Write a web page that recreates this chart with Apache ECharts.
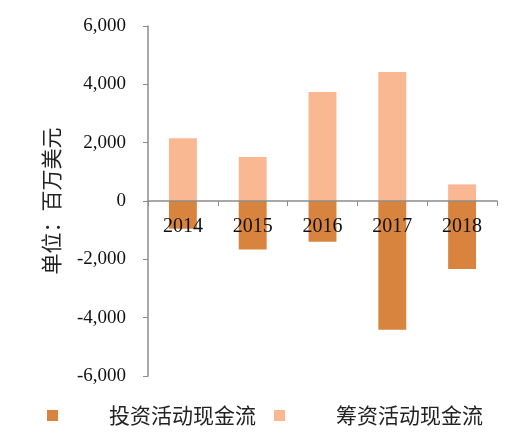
<!DOCTYPE html>
<html>
<head>
<meta charset="utf-8">
<script src="https://cdn.jsdelivr.net/npm/echarts@6/dist/echarts.min.js"></script>
<style>
html, body { margin: 0; padding: 0; background: #fff; }
#chart { width: 512px; height: 437px; }
</style>
</head>
<body>
<div id="chart"></div>
<script>
// Data (百万美元)
const years = ['2014', '2015', '2016', '2017', '2018'];
const investCash = [-950, -1660, -1400, -4410, -2330];
const financeCash = [2150, 1510, 3740, 4420, 570];
const yTicks = { min: -6000, max: 6000, interval: 2000 };

const serif = '"Liberation Serif", "DejaVu Serif", serif';
const cjk = '"Noto Sans CJK SC", sans-serif';
const axisGray = '#8c8c8c';

const chart = echarts.init(document.getElementById('chart'));
chart.setOption({
    animation: false,
    grid: { left: 148, right: 15, top: 26, bottom: 61 },
    legend: {
        bottom: 6,
        left: 42,
        itemWidth: 11,
        itemHeight: 11,
        itemGap: 18,
        icon: 'rect',
        textStyle: { fontFamily: cjk, fontSize: 21, color: '#222', padding: [0, 0, 0, 46] },
        data: ['投资活动现金流', '筹资活动现金流']
    },
    xAxis: {
        type: 'category',
        data: years,
        z: 10,
        // zero line sits 175px above the grid bottom (half the 350px plot height)
        offset: -175,
        axisLine: { onZero: false, lineStyle: { color: axisGray, width: 1.5 } },
        axisTick: { show: true, inside: false, length: 5, lineStyle: { color: axisGray } },
        axisLabel: { fontFamily: serif, fontSize: 20, color: '#111', margin: 16 }
    },
    yAxis: {
        type: 'value',
        min: yTicks.min,
        max: yTicks.max,
        interval: yTicks.interval,
        name: '单位：百万美元',
        nameLocation: 'middle',
        nameGap: 86,
        nameRotate: 90,
        nameTextStyle: { fontFamily: cjk, fontSize: 21, color: '#222' },
        splitLine: { show: false },
        axisLine: { show: true, lineStyle: { color: axisGray, width: 1.5 } },
        axisTick: { show: true, length: 5, lineStyle: { color: axisGray } },
        axisLabel: {
            fontFamily: serif, fontSize: 19, color: '#111', margin: 22,
            formatter: function (v) { return v.toLocaleString('en-US'); }
        }
    },
    series: [
        {
            name: '投资活动现金流',
            type: 'bar',
            stack: 'cf',
            barWidth: '40%',
            itemStyle: { color: '#D8843E' },
            data: investCash
        },
        {
            name: '筹资活动现金流',
            type: 'bar',
            stack: 'cf',
            barWidth: '40%',
            itemStyle: { color: '#F9B792' },
            data: financeCash
        }
    ]
});
</script>
</body>
</html>
